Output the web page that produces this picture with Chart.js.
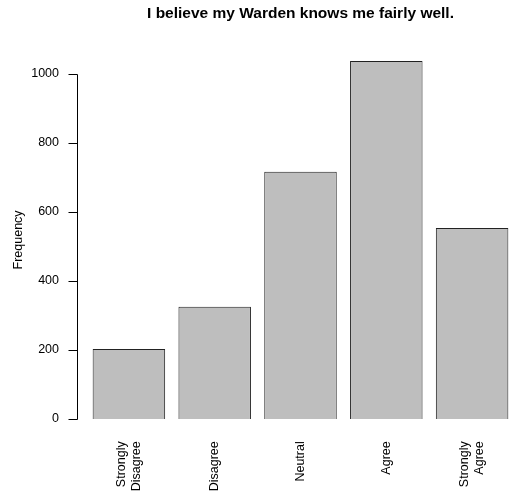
<!DOCTYPE html>
<html>
<head>
<meta charset="utf-8">
<script src="https://cdn.jsdelivr.net/npm/chart.js@4"></script>
<style>
  html, body { margin: 0; padding: 0; background: #fff; }
  #wrap { width: 515px; height: 499px; }
</style>
</head>
<body>
<div id="wrap"><canvas id="freqChart"></canvas></div>
<script>
const categories = [['Strongly', 'Disagree'], 'Disagree', 'Neutral', 'Agree', ['Strongly', 'Agree']];
const frequency = [203, 325, 717, 1038, 554];
const yTicks = [0, 200, 400, 600, 800, 1000];
const chartTitle = 'I believe my Warden knows me fairly well.';

const FONT = 'Liberation Sans, Arial, sans-serif';

// R style axis range: 4% padding on both ends
const yTop = Math.max(...frequency);
const yMin = -yTop * 0.04;
const yMax = yTop * 1.04;

// y axis line + tick marks drawn a bit left of the plot, like base R
const rAxis = {
  id: 'rAxis',
  beforeDraw: (chart) => {
    // center two-line rotated labels on their bar
    const items = chart.scales.x.getLabelItems();
    items.forEach(item => {
      if (Array.isArray(item.label) && !item._shifted) {
        item.textOffset -= (item.label.length - 1) * item.font.lineHeight / 2;
        item._shifted = true;
      }
    });
  },
  afterDraw: (chart) => {
    const ctx = chart.ctx;
    const y = chart.scales.y;
    const x0 = Math.round(chart.chartArea.left - 9);
    ctx.save();
    ctx.strokeStyle = '#000';
    ctx.lineWidth = 1;
    ctx.beginPath();
    ctx.moveTo(x0 + 0.5, Math.round(y.getPixelForValue(yTicks[0])) + 0.5);
    ctx.lineTo(x0 + 0.5, Math.round(y.getPixelForValue(yTicks[yTicks.length - 1])) + 0.5);
    yTicks.forEach(v => {
      const py = Math.round(y.getPixelForValue(v)) + 0.5;
      ctx.moveTo(x0 - 8.5, py);
      ctx.lineTo(x0 + 0.5, py);
    });
    ctx.stroke();
    ctx.restore();
  }
};

new Chart(document.getElementById('freqChart'), {
  type: 'bar',
  data: {
    labels: categories,
    datasets: [{
      data: frequency,
      backgroundColor: '#bebebe',
      borderColor: '#222',
      borderWidth: 1,
      categoryPercentage: 1,
      barPercentage: 0.845
    }]
  },
  options: {
    responsive: true,
    maintainAspectRatio: false,
    animation: false,
    layout: { padding: 0 },
    plugins: {
      legend: { display: false },
      tooltip: { enabled: false },
      title: {
        display: true,
        fullSize: false,
        text: chartTitle,
        color: '#000',
        font: { family: FONT, size: 15.5, weight: 'bold' },
        padding: { top: 4, bottom: 24 }
      }
    },
    scales: {
      x: {
        offset: true,
        afterFit: (scale) => { scale.height = 65.7; },
        grid: { display: false },
        border: { display: false },
        ticks: {
          color: '#000',
          font: { family: FONT, size: 12.5 },
          minRotation: 90,
          maxRotation: 90,
          padding: 0,
          autoSkip: false
        }
      },
      y: {
        min: yMin,
        max: yMax,
        afterFit: (scale) => { scale.width = 86; },
        afterBuildTicks: (scale) => {
          scale.ticks = yTicks.map(v => ({ value: v }));
        },
        grid: { display: false },
        border: { display: false },
        ticks: {
          color: '#000',
          font: { family: FONT, size: 12.5 },
          padding: 19,
          callback: (v) => String(v)
        },
        title: {
          display: true,
          text: 'Frequency',
          color: '#000',
          font: { family: FONT, size: 12.5 },
          padding: { top: 11.5, bottom: 0 }
        }
      }
    }
  },
  plugins: [rAxis]
});
</script>
</body>
</html>
